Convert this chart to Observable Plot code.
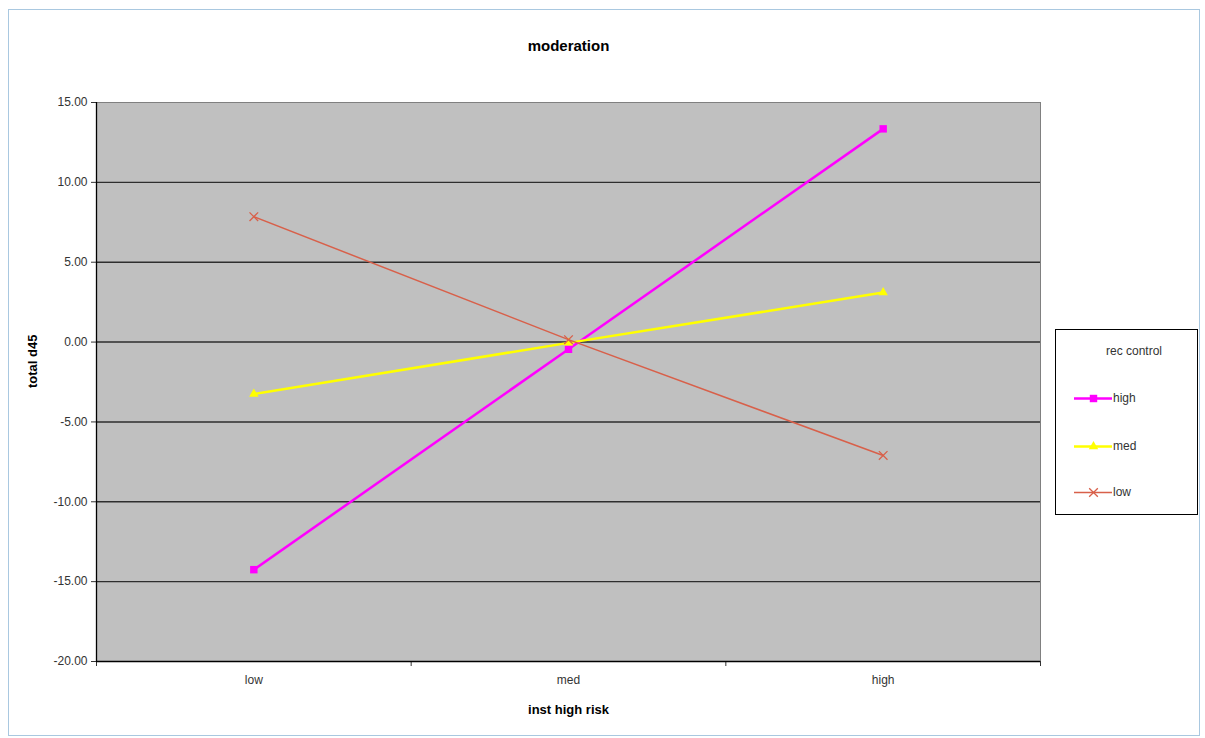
<!DOCTYPE html>
<html>
<head>
<meta charset="utf-8">
<script src="https://cdn.jsdelivr.net/npm/d3@7"></script>
<script src="https://cdn.jsdelivr.net/npm/@observablehq/plot@0.6"></script>
<style>
  html, body { margin: 0; padding: 0; background: #fff; }
  #wrap { position: relative; width: 1205px; height: 738px; font-family: "Liberation Sans", Arial, sans-serif; }
  #border { position: absolute; left: 8px; top: 9px; width: 1192px; height: 727px; border: 1px solid #a9c8e0; box-sizing: border-box; }
  #chart { position: absolute; left: 0; top: 0; }
  #legend { position: absolute; left: 1055px; top: 329px; width: 143px; height: 186px; border: 1px solid #000; box-sizing: border-box; background: #fff; font-size: 12px; color: #333; }
  #legend .ttl { position: absolute; left: 16px; top: 14px; width: 124px; text-align: center; }
  #legend .row { position: absolute; left: 18px; height: 16px; display: flex; align-items: center; }
  #legend svg { display: block; }
</style>
</head>
<body>
<div id="wrap">
  <div id="border"></div>
  <div id="chart"></div>
  <div id="legend"><div class="ttl">rec control</div></div>
</div>
<script>
// ---- data ----
const categories = ["low", "med", "high"];          // inst high risk
const seriesNames = ["high", "med", "low"];          // rec control
const highValues = [-14.25, -0.45, 13.35];
const medValues = [-3.25, -0.05, 3.10];
const lowValues = [7.85, 0.15, -7.10];
const yTicks = [-20, -15, -10, -5, 0, 5, 10, 15];
const seriesColors = ["#ff00ff", "#ffff00", "#d8604a"];
const seriesSymbols = ["square", "triangle", "times"];
const seriesWidths = [2.5, 2.5, 1.5];

const allValues = [highValues, medValues, lowValues];
const data = [];
seriesNames.forEach((s, si) => {
  categories.forEach((c, ci) => {
    data.push({series: s, cat: c, xi: ci + 0.5, value: allValues[si][ci]});
  });
});
const xBounds = d3.range(categories.length + 1);
const xCenters = categories.map((c, i) => i + 0.5);

const marks = [
  Plot.frame({fill: "#c0c0c0", stroke: "#808080"}),
  Plot.ruleY(yTicks.filter(t => t > -20 && t < 15), {stroke: "#2e2e2e", strokeWidth: 1.4}),
  Plot.axisY({ticks: yTicks, tickFormat: d => d.toFixed(2), tickSize: 5, tickPadding: 4, fontSize: 12, label: null}),
  Plot.axisX(xBounds, {tickFormat: () => "", tickSize: 5, label: null}),
  Plot.axisX(xCenters, {tickFormat: (d, i) => categories[i], tickSize: 0, tickPadding: 14, fontSize: 12, label: null}),
  Plot.ruleX([0], {stroke: "#000", strokeWidth: 1.3}),
  Plot.ruleY([-20], {stroke: "#000", strokeWidth: 1.3}),
];
seriesNames.forEach((s, si) => {
  const d = data.filter(r => r.series === s);
  marks.push(Plot.line(d, {x: "xi", y: "value", stroke: seriesColors[si], strokeWidth: seriesWidths[si]}));
  if (seriesSymbols[si] === "square") {
    marks.push(Plot.dot(d, {x: "xi", y: "value", symbol: "square", r: 4.2, fill: seriesColors[si]}));
  } else if (seriesSymbols[si] === "triangle") {
    marks.push(Plot.dot(d, {x: "xi", y: "value", symbol: "triangle", r: 3.5, fill: seriesColors[si]}));
  } else {
    marks.push(Plot.dot(d, {x: "xi", y: "value", symbol: "times", r: 4, stroke: seriesColors[si], strokeWidth: 1.3}));
  }
});
marks.push(
  Plot.text(["moderation"], {frameAnchor: "top", dy: -62, fontSize: 15, fontWeight: "bold", fill: "#000"}),
  Plot.text(["inst high risk"], {frameAnchor: "bottom", dy: 52, fontSize: 13, fontWeight: "bold", fill: "#000"}),
  Plot.text(["total d45"], {frameAnchor: "left", dx: -64, dy: 6, rotate: -90, fontSize: 13, fontWeight: "bold", fill: "#000"})
);

const chart = Plot.plot({
  width: 1205,
  height: 738,
  marginLeft: 96,
  marginRight: 165,
  marginTop: 102,
  marginBottom: 77,
  style: {background: "transparent", fontFamily: "Liberation Sans, Arial, sans-serif", color: "#333"},
  x: {domain: [0, categories.length], axis: null},
  y: {domain: [-20, 15], axis: null},
  marks
});
document.getElementById("chart").appendChild(chart);

// ---- legend ----
const legend = document.getElementById("legend");
const rowTops = [60, 108, 154];
seriesNames.forEach((s, si) => {
  const row = document.createElement("div");
  row.className = "row";
  row.style.top = rowTops[si] + "px";
  const sw = Plot.plot({
    width: 38, height: 16, margin: 0,
    x: {domain: [0, 1], axis: null}, y: {domain: [0, 1], axis: null},
    style: {background: "transparent"},
    marks: [
      Plot.ruleY([0.5], {x1: 0, x2: 1, stroke: seriesColors[si], strokeWidth: seriesWidths[si]}),
      seriesSymbols[si] === "times"
        ? Plot.dot([0.5], {x: d => d, y: 0.5, symbol: "times", r: 4, stroke: seriesColors[si], strokeWidth: 1.3})
        : Plot.dot([0.5], {x: d => d, y: 0.5, symbol: seriesSymbols[si], r: seriesSymbols[si] === "square" ? 4.2 : 3.5, fill: seriesColors[si]})
    ]
  });
  row.appendChild(sw);
  const t = document.createElement("span");
  t.textContent = s;
  t.style.marginLeft = "1px";
  row.appendChild(t);
  legend.appendChild(row);
});
</script>
</body>
</html>
